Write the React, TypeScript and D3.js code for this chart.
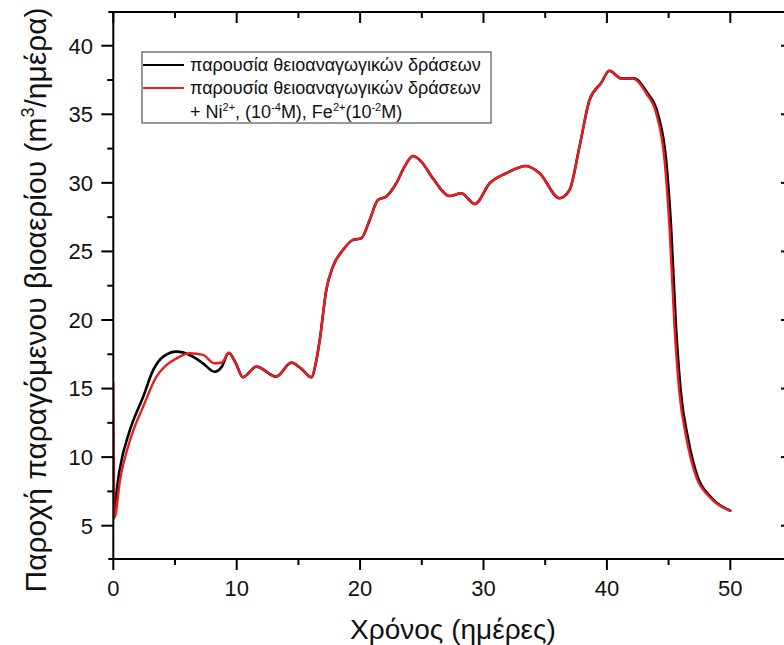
import React from "react";
import * as d3 from "d3";

const W = 784;
const H = 645;

// Red series: presence of sulfate-reducing activity + Ni2+, Fe2+
const tRed = [0, 0.1, 0.54, 1.36, 2.42, 3.5, 4.3, 5.12, 6.2, 7.27, 8.2, 8.8, 9.35, 9.9, 10.5, 11.6, 13.2, 14.43, 15.3, 16.05, 16.4, 16.73, 17.26, 17.8, 18.61, 19.43, 20.1, 20.78, 21.44, 22.12, 22.93, 23.6, 24.28, 24.96, 25.9, 27.26, 28.2, 29.3, 30.5, 31.84, 33.46, 34.55, 36.16, 36.97, 37.77, 38.6, 39.53, 40.2, 41.16, 42.1, 43.19, 44.0, 44.67, 45.07, 45.48, 45.88, 46.42, 47.23, 48.3, 50.0];
const vRed = [15.4, 5.6, 8.3, 11.25, 13.68, 15.87, 16.7, 17.2, 17.57, 17.45, 16.84, 16.9, 17.6, 16.9, 15.82, 16.6, 15.87, 16.89, 16.4, 15.82, 16.8, 18.54, 22.19, 23.9, 25.1, 25.84, 25.96, 27.3, 28.75, 29.0, 29.97, 31.18, 31.96, 31.55, 30.33, 29.04, 29.24, 28.46, 29.97, 30.7, 31.23, 30.7, 28.88, 29.48, 32.6, 36.06, 37.28, 38.18, 37.62, 37.62, 36.53, 35.07, 31.67, 26.8, 19.5, 14.66, 11.49, 8.57, 7.11, 6.09];

// Black series: presence of sulfate-reducing activity
const tBlack = [0, 0.5, 1.35, 2.42, 3.24, 4.05, 5.13, 6.2, 7.27, 8.2, 8.8, 9.35, 9.9, 10.5, 11.6, 13.2, 14.43, 15.3, 16.05, 16.4, 16.73, 17.26, 17.8, 18.61, 19.43, 20.1, 20.78, 21.44, 22.12, 22.93, 23.6, 24.28, 24.96, 25.9, 27.26, 28.2, 29.3, 30.5, 31.84, 33.46, 34.55, 36.16, 36.97, 37.77, 38.6, 39.53, 40.2, 41.16, 42.15, 43.3, 44.12, 44.8, 45.2, 45.6, 46.0, 46.55, 47.35, 48.4, 50.0];
const vBlack = [5.5, 9.0, 11.98, 14.4, 16.36, 17.33, 17.69, 17.45, 16.84, 16.23, 16.6, 17.6, 16.9, 15.82, 16.6, 15.87, 16.89, 16.4, 15.82, 16.8, 18.54, 22.19, 23.9, 25.1, 25.84, 25.96, 27.3, 28.75, 29.0, 29.97, 31.18, 31.96, 31.55, 30.33, 29.04, 29.24, 28.46, 29.97, 30.7, 31.23, 30.7, 28.88, 29.48, 32.6, 36.06, 37.28, 38.18, 37.62, 37.62, 36.53, 35.07, 31.67, 26.8, 19.5, 14.66, 11.49, 8.57, 7.11, 6.09];

const xMajor = [0, 10, 20, 30, 40, 50];
const xMinor = [5, 15, 25, 35, 45, 55];
const yMajor = [5, 10, 15, 20, 25, 30, 35, 40];
const yMinor = [7.5, 12.5, 17.5, 22.5, 27.5, 32.5, 37.5];

const legendLine1 = "παρουσία θειοαναγωγικών δράσεων";
const legendLine2 = "παρουσία θειοαναγωγικών δράσεων";
const xTitle = "Χρόνος (ημέρες)";
const yTitleA = "Παροχή παραγόμενου βιοαερίου (m";
const yTitleB = "3";
const yTitleC = "/ημέρα)";

const FONT = "'Liberation Sans', Arial, sans-serif";
const RED = "#ec1c24";

export default function App() {
  const x = d3.scaleLinear().domain([0, 55]).range([113.3, 792]);
  const y = d3.scaleLinear().domain([2.57, 42.46]).range([559, 12]);
  const line = d3
    .line<[number, number]>()
    .x((d) => x(d[0]))
    .y((d) => y(d[1]))
    .curve(d3.curveMonotoneX);
  const redPts = tRed.map((t, i) => [t, vRed[i]] as [number, number]);
  const blackPts = tBlack.map((t, i) => [t, vBlack[i]] as [number, number]);

  const left = x(0);
  const right = x(55);
  const top = y(42.46);
  const bottom = y(2.57);

  const axisStroke = "#000";
  const sw = 2;

  return (
    <svg
      width={W}
      height={H}
      style={{ position: "absolute", left: 0, top: 0, background: "#fff" }}
      fontFamily={FONT}
    >
      <rect x={0} y={0} width={W} height={H} fill="#fff" />
      <defs>
        <clipPath id="plot">
          <rect x={left} y={top} width={right - left} height={bottom - top} />
        </clipPath>
      </defs>

      {/* curves */}
      <g clipPath="url(#plot)" fill="none" strokeLinejoin="round" strokeLinecap="round">
        <path d={line(blackPts) || ""} stroke="#000" strokeWidth={2.6} />
        <path d={line(redPts) || ""} stroke={RED} strokeWidth={2.4} />
      </g>

      {/* frame */}
      <g stroke={axisStroke} strokeWidth={sw}>
        <line x1={left} x2={left} y1={top} y2={bottom} />
        <line x1={right} x2={right} y1={top} y2={bottom} />
        <line x1={left - 5} x2={right} y1={top} y2={top} />
        <line x1={left - 5} x2={right} y1={bottom} y2={bottom} />
      </g>

      {/* ticks */}
      <g stroke={axisStroke} strokeWidth={sw}>
        {xMajor.map((t) => (
          <g key={"xM" + t}>
            <line x1={x(t)} x2={x(t)} y1={bottom} y2={bottom + 11} />
            <line x1={x(t)} x2={x(t)} y1={top} y2={top + 11} />
          </g>
        ))}
        {xMinor.map((t) => (
          <g key={"xm" + t}>
            <line x1={x(t)} x2={x(t)} y1={bottom} y2={bottom + 6} />
            <line x1={x(t)} x2={x(t)} y1={top} y2={top + 6} />
          </g>
        ))}
        {yMajor.map((v) => (
          <g key={"yM" + v}>
            <line x1={left - 12} x2={left} y1={y(v)} y2={y(v)} />
            <line x1={right - 11} x2={right} y1={y(v)} y2={y(v)} />
          </g>
        ))}
        {yMinor.map((v) => (
          <g key={"ym" + v}>
            <line x1={left - 6} x2={left} y1={y(v)} y2={y(v)} />
            <line x1={right - 6} x2={right} y1={y(v)} y2={y(v)} />
          </g>
        ))}
      </g>

      {/* tick labels */}
      <g fontSize={22} fill="#111">
        {xMajor.map((t) => (
          <text key={"xl" + t} x={x(t)} y={596} textAnchor="middle">
            {t}
          </text>
        ))}
        {yMajor.map((v) => (
          <text key={"yl" + v} x={93} y={y(v)} dy="0.36em" textAnchor="end">
            {v}
          </text>
        ))}
      </g>

      {/* axis titles */}
      <text x={453} y={639} fontSize={28} textAnchor="middle" fill="#111">
        {xTitle}
      </text>
      <text
        transform={`translate(46, 300) rotate(-90)`}
        fontSize={30}
        textAnchor="middle"
        fill="#111"
      >
        {yTitleA}
        <tspan fontSize={18} dy={-12}>{yTitleB}</tspan>
        <tspan dy={12}>{yTitleC}</tspan>
      </text>

      {/* legend */}
      <g>
        <rect x={142} y={52} width={349} height={71} fill="#fff" stroke="#555" strokeWidth={1.2} />
        <line x1={143} x2={184} y1={65} y2={65} stroke="#000" strokeWidth={2.2} />
        <line x1={143} x2={184} y1={88} y2={88} stroke={RED} strokeWidth={2.2} />
        <g fontSize={18} fill="#111">
          <text x={190} y={71}>{legendLine1}</text>
          <text x={190} y={94}>{legendLine2}</text>
          <text x={190} y={118}>
            + Ni
            <tspan fontSize={11} dy={-7}>2+</tspan>
            <tspan dy={7}>, (10</tspan>
            <tspan fontSize={11} dy={-7}>-4</tspan>
            <tspan dy={7}>M), Fe</tspan>
            <tspan fontSize={11} dy={-7}>2+</tspan>
            <tspan dy={7}>(10</tspan>
            <tspan fontSize={11} dy={-7}>-2</tspan>
            <tspan dy={7}>M)</tspan>
          </text>
        </g>
      </g>
    </svg>
  );
}
